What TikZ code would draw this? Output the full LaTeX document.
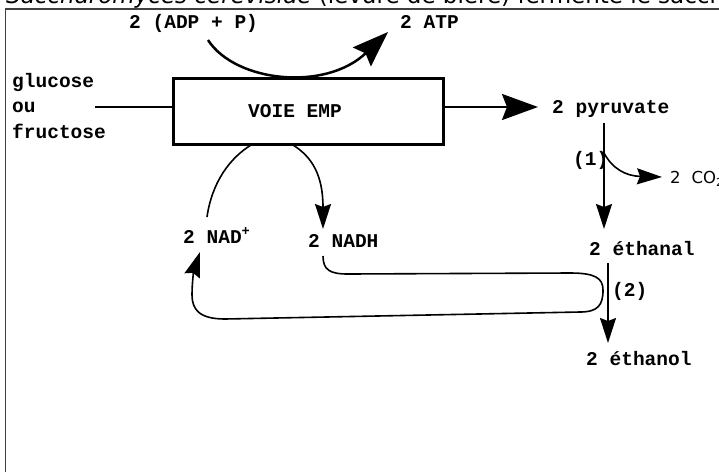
\documentclass[tikz,border=0pt]{standalone}
\usepackage{fontspec}
\setmonofont{Liberation Mono}
\newfontfamily\cofont{DejaVu Sans}
\usetikzlibrary{arrows.meta}
\begin{document}
\begin{tikzpicture}[x=1pt,y=-1pt,
  lbl/.style={font=\ttfamily\bfseries\fontsize{19.5}{25.5}\selectfont, inner sep=0pt, anchor=base west},
  heavy/.style={line width=2.5pt},
  light/.style={line width=1.6pt},
  bigtip/.style={-{Stealth[length=36pt,width=26pt,inset=5pt]}},
  smalltip/.style={-{Stealth[length=25pt,width=16pt,inset=3pt]}},
  frameline/.style={line width=1.6pt, black!75}
]
\useasboundingbox (0,0) rectangle (719,472);
% cut-off caption at the very top
\begin{scope}
\clip (0,0) rectangle (719,472);
\node[anchor=base west, inner sep=0pt, font=\cofont\fontsize{23}{27}\selectfont] (caption) at (6,3)
  {\itshape Saccharomyces cerevisiae\upshape{} (levure de bière) fermente le saccharose};
\end{scope}
% frame
\coordinate (fbl) at (5.5,472);
\coordinate (ftl) at (5.5,9);
\coordinate (ftr) at (719,9);
\draw[frameline] (fbl) -- (ftl) -- (ftr);

% box
\node[draw, heavy, minimum width=270pt, minimum height=66pt, inner sep=0pt] (box) at (308.5,111.5) {};
\node[lbl] (emp) at (248,117) {VOIE EMP};

% labels
\node[lbl, anchor=west, align=left] (glu) at (12,105.6) {glucose\\ou\\fructose};
\node[lbl] (adp) at (129,28) {2 (ADP + P)};
\node[lbl] (atp) at (400,28) {2 ATP};
\node[lbl] (pyr) at (552,113) {2 pyruvate};
\node[lbl] (one) at (573,165) {(1)};
\node[anchor=base west, inner sep=0pt, font=\cofont\fontsize{16.5}{20}\selectfont] (co2) at (670,183)
  {2\hskip 11pt CO\raisebox{-3pt}{\fontsize{11}{12}\selectfont 2}};
\node[lbl] (etl) at (589,255) {2 éthanal};
\node[lbl] (two) at (612,296) {(2)};
\node[lbl] (eto) at (586,365) {2 éthanol};
\node[lbl] (nad) at (183,243) {2 NAD\textsuperscript{+}};
\node[lbl] (nadh) at (308,247) {2 NADH};

% connector points
\coordinate (gin) at (95,107);
\coordinate (pyrin) at (538,107);
\coordinate (atpstart) at (208,40);
\coordinate (atpend) at (388,32);
\coordinate (boxnad) at (251,145);
\coordinate (boxnadh) at (293,145);
\coordinate (nadtop) at (207,217);
\coordinate (nadbot) at (200,252);
\coordinate (nadhtop) at (323,229);
\coordinate (nadhbot) at (323,256);
\coordinate (pyrbot) at (604,123);
\coordinate (etltop) at (604,229);
\coordinate (branch1) at (604,153);
\coordinate (co2in) at (662,177);
\coordinate (etlbot) at (608,263);
\coordinate (etotop) at (608,343);

% connectors
\draw[heavy] (gin) -- (gin -| box.west);
\draw[heavy, bigtip] (pyrin -| box.east) -- (pyrin);
\draw[heavy, bigtip] (atpstart) .. controls (235,82) and (325,92) .. (atpend);
\draw[light] (nadtop) .. controls (212,182) and (230,158) .. (boxnad);
\draw[light, smalltip] (boxnadh) .. controls (312,157) and (323,175) .. (nadhtop);
\draw[light, smalltip] (pyrbot) -- (etltop);
\draw[light, smalltip] (branch1) .. controls (612,168) and (625,176) .. (co2in);
\draw[light, smalltip] (etlbot) -- (etotop);
\draw[light, smalltip] (nadhbot) .. controls (323,270) and (330,274) .. (348,274)
  -- (570,273) .. controls (595,273) and (603,278) .. (603,290)
  .. controls (603,305) and (598,312) .. (580,312)
  -- (225,319) .. controls (200,319) and (192,310) .. (192,295)
  .. controls (192,282) and (194,270) .. (nadbot);
\end{tikzpicture}
\end{document}
